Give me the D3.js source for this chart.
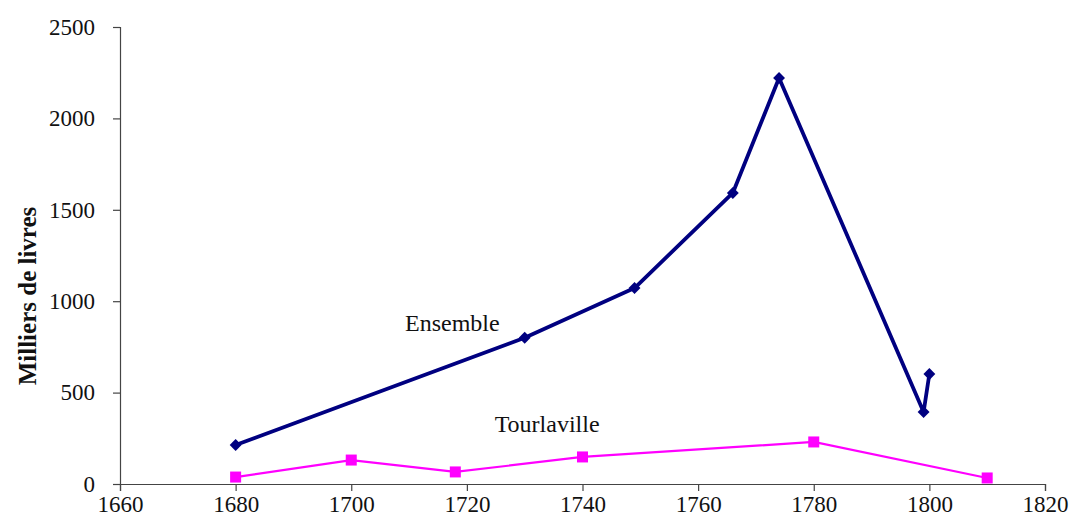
<!DOCTYPE html>
<html><head><meta charset="utf-8">
<script src="https://cdn.jsdelivr.net/npm/d3@7"></script>
<style>body{margin:0;background:#fff}svg{display:block}</style>
</head><body><svg id="c" width="1070" height="524"></svg>
<script>
const ensembleYears = [1680, 1730, 1749, 1766, 1774, 1799, 1800];
const ensembleValues = [213, 800, 1072, 1592, 2221, 394, 602];
const tourYears = [1680, 1700, 1718, 1740, 1780, 1810];
const tourValues = [38, 131, 66, 148, 230, 33];
const xTicks = [1660, 1680, 1700, 1720, 1740, 1760, 1780, 1800, 1820];
const yTicks = [0, 500, 1000, 1500, 2000, 2500];

const svg = d3.select("#c");
const x = d3.scaleLinear().domain([1660, 1820]).range([120, 1045]);
const y = d3.scaleLinear().domain([0, 2500]).range([484, 27]);
const font = "'Liberation Serif', 'Times New Roman', serif";

const xa = svg.append("g").attr("transform", "translate(0,484)")
  .call(d3.axisBottom(x).tickValues(xTicks).tickFormat(d3.format("d")).tickSizeOuter(0).tickSize(7).tickPadding(5));
const ya = svg.append("g").attr("transform", "translate(120,0)")
  .call(d3.axisLeft(y).tickValues(yTicks).tickFormat(d3.format("d")).tickSizeOuter(0).tickSize(7).tickPadding(18));
[xa, ya].forEach(a => {
  a.selectAll("path,line").attr("stroke", "#444").attr("stroke-width", 1.2);
  a.selectAll("text").attr("font-family", font).attr("font-size", 23).attr("fill", "#111");
});

svg.append("text").attr("transform", "translate(36,296) rotate(-90)")
  .attr("text-anchor", "middle").attr("font-family", font).attr("font-weight", "bold")
  .attr("font-size", 25).attr("fill", "#111").text("Milliers de livres");

const ens = ensembleYears.map((d, i) => [d, ensembleValues[i]]);
const tour = tourYears.map((d, i) => [d, tourValues[i]]);
const line = d3.line().x(d => x(d[0])).y(d => y(d[1]));

svg.append("path").datum(tour).attr("d", line).attr("fill", "none").attr("stroke", "#ff00ff").attr("stroke-width", 2.2);
svg.selectAll(".sq").data(tour).join("rect").attr("class", "sq")
  .attr("x", d => x(d[0]) - 5.5).attr("y", d => y(d[1]) - 5.5).attr("width", 11).attr("height", 11).attr("fill", "#ff00ff");

svg.append("path").datum(ens).attr("d", line).attr("fill", "none").attr("stroke", "#000080").attr("stroke-width", 3.8).attr("stroke-linejoin", "round");
svg.selectAll(".dm").data(ens).join("path").attr("class", "dm")
  .attr("d", d3.symbol(d3.symbolDiamond2, 90))
  .attr("transform", d => `translate(${x(d[0])},${y(d[1])})`).attr("fill", "#000080");

svg.append("text").attr("x", x(1709.3)).attr("y", y(835)).attr("font-family", font).attr("font-size", 24).attr("fill", "#111").text("Ensemble");
svg.append("text").attr("x", x(1724.8)).attr("y", y(285)).attr("font-family", font).attr("font-size", 24).attr("fill", "#111").text("Tourlaville");
</script></body></html>
